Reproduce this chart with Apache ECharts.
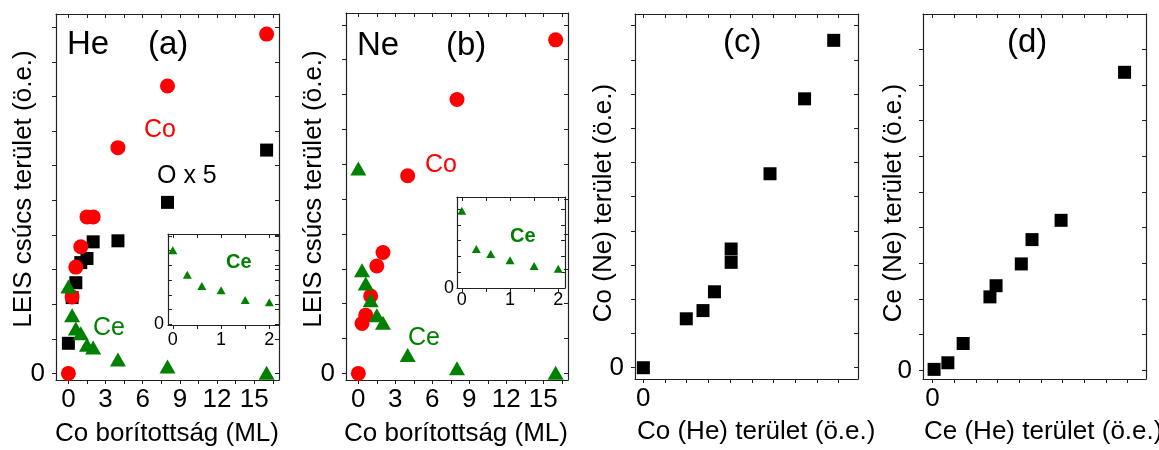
<!DOCTYPE html>
<html>
<head>
<meta charset="utf-8">
<script src="https://cdn.jsdelivr.net/npm/echarts@6/dist/echarts.min.js"></script>
<style>
  html, body { margin: 0; padding: 0; background: #fff; }
  #chart { width: 1159px; height: 450px; }
</style>
</head>
<body>
<div id="chart"></div>
<script>
// Co coverage (ML) of each deposition step
const coverage = [0, 0.3, 0.6, 1, 1.5, 2, 4, 8, 16];
// LEIS peak areas measured with He+ ions (arb. units); O is multiplied by 5
const coHe = [0, 2.21, 3.07, 3.66, 4.52, 4.52, 6.52, 8.30, 9.80];
const oHeX5 = [0.87, 2.19, 2.62, 3.20, 3.32, 3.80, 3.83, 4.94, 6.45];
const ceHe = [2.51, 1.68, 1.30, 1.16, 0.83, 0.75, 0.40, 0.20, 0.02];
// LEIS peak areas measured with Ne+ ions (arb. units)
const coNe = [0, 1.43, 1.67, 2.22, 3.08, 3.47, 5.67, 7.86, 9.57];
const ceNe = [5.88, 2.96, 2.58, 2.10, 1.67, 1.45, 0.53, 0.15, 0.02];
// the insets zoom into the low-coverage range
const insetMaxCoverage = 2;
// tick labels
const coverageLabels = [0, 3, 6, 9, 12, 15];
const insetLabels = [0, 1, 2];
const zeroLabel = [0];

const FONT = 'Liberation Sans, Arial, Helvetica, sans-serif';
const AX = '#222';
const RED = '#ff0000';
const GREEN = '#008000';
const BLACK = '#000000';

function steps(step, count) {
  const out = [];
  for (let k = 0; k <= count; k++) out.push(+(k * step).toFixed(4));
  return out;
}

function pairs(xs, ys, keep) {
  const out = [];
  xs.forEach((x, i) => { if (!keep || keep(i)) out.push([x, ys[i]]); });
  return out;
}

// one axis: position decides side, inside decides tick direction
function axis(grid, min, max, position, ticks, labels, tickInside, labelSize, labelMargin) {
  const a = {
    type: 'value', gridIndex: grid, min: min, max: max, position: position,
    axisLine: { show: true, onZero: false, lineStyle: { color: AX, width: 1.2 } },
    axisTick: { show: true, inside: tickInside, length: 4, customValues: ticks,
                lineStyle: { color: AX, width: 1 } },
    splitLine: { show: false }
  };
  if (labels && labels.length) {
    a.axisLabel = { show: true, customValues: labels, color: '#000',
                    fontFamily: FONT, fontSize: labelSize, margin: labelMargin };
  } else {
    a.axisLabel = { show: false };
  }
  return a;
}

const grids = [
  { left: 56, top: 14, width: 223, height: 366 },   // (a) He
  { left: 346, top: 13, width: 222, height: 367 },  // (b) Ne
  { left: 635, top: 14, width: 223, height: 365 },  // (c) Co Ne vs He
  { left: 923, top: 14, width: 223, height: 365 },  // (d) Ce Ne vs He
  { left: 168, top: 234, width: 111, height: 91 },  // inset in (a)
  { left: 457, top: 197, width: 108, height: 91 }   // inset in (b)
].map(g => Object.assign({ containLabel: false, outerBoundsMode: 'none', show: true,
  backgroundColor: '#fff', borderWidth: 0 }, g));

const covTicks = steps(1.5, 11);
const intTicks = steps(1, 10);

// [xMin, xMax, yMin, yMax, xTicks, yTicks, xLabels, yLabels, labelSize, xMargin, yMargin, leftTicksInside]
const frames = [
  [-1, 17, -0.19, 10.38, covTicks, intTicks, coverageLabels, zeroLabel, 26, 7, 11, false],
  [-1, 17, -0.19, 10.34, covTicks, intTicks, coverageLabels, zeroLabel, 26, 7, 11, false],
  [-0.43, 11.05, -0.33, 10.34, steps(1.117, 9), intTicks, zeroLabel, zeroLabel, 26, 7, 11, false],
  [-0.125, 2.79, -0.17, 7.03, steps(0.2833, 9), steps(0.704, 9), zeroLabel, zeroLabel, 26, 7, 11, false],
  [-0.1, 2.2, -0.017, 3.06, steps(0.5, 4), steps(0.5, 6), insetLabels, zeroLabel, 18, 6, 4, true],
  [-0.1, 2.14, -0.01, 6.92, steps(0.5, 4), steps(1.2, 5), insetLabels, zeroLabel, 18, 3, 3, true]
];

const xAxes = [], yAxes = [];
frames.forEach((f, g) => {
  const [x0, x1, y0, y1, xt, yt, xl, yl, ls, xm, ym, leftIn] = f;
  xAxes.push(axis(g, x0, x1, 'bottom', xt, xl, false, ls, xm));
  yAxes.push(axis(g, y0, y1, 'left', yt, yl, leftIn, ls, ym));
});
frames.forEach((f, g) => {
  const [x0, x1, y0, y1, xt, yt] = f;
  xAxes.push(axis(g, x0, x1, 'top', xt, null, true));
  yAxes.push(axis(g, y0, y1, 'right', yt, null, true));
});

function scatter(name, grid, data, symbol, size, color) {
  return { name: name, type: 'scatter', xAxisIndex: grid, yAxisIndex: grid,
           data: data, symbol: symbol, symbolSize: size,
           itemStyle: { color: color, opacity: 1 }, emphasis: { disabled: true } };
}

const lowCov = i => coverage[i] <= insetMaxCoverage;

const series = [
  scatter('O x 5 (He)', 0, pairs(coverage, oHeX5), 'rect', 13, BLACK),
  scatter('Co (He)', 0, pairs(coverage, coHe), 'circle', 15, RED),
  scatter('Ce (He)', 0, pairs(coverage, ceHe), 'triangle', [16, 14], GREEN),
  scatter('Co (Ne)', 1, pairs(coverage, coNe), 'circle', 15, RED),
  scatter('Ce (Ne)', 1, pairs(coverage, ceNe), 'triangle', [16, 14], GREEN),
  scatter('Co Ne vs He', 2, pairs(coHe, coNe), 'rect', 13, BLACK),
  scatter('Ce Ne vs He', 3, pairs(ceHe, ceNe), 'rect', 13, BLACK),
  scatter('Ce (He) low', 4, pairs(coverage, ceHe, lowCov), 'triangle', [9, 8], GREEN),
  scatter('Ce (Ne) low', 5, pairs(coverage, ceNe, lowCov), 'triangle', [9, 8], GREEN)
];

function label(text, x, y, size, color, bold) {
  return { type: 'text', x: x, y: y, silent: true, z: 100,
           style: { text: text, fill: color, textAlign: 'left', textVerticalAlign: 'middle',
                    font: (bold ? 'bold ' : '') + size + 'px ' + FONT } };
}
function vlabel(text, x, y, size) {
  return { type: 'text', x: x, y: y, rotation: Math.PI / 2, silent: true, z: 100,
           style: { text: text, fill: '#000', textAlign: 'center', textVerticalAlign: 'middle',
                    font: size + 'px ' + FONT } };
}

const graphic = [
  label('He', 67, 45, 33, '#000'),
  label('(a)', 148, 45, 33, '#000'),
  label('Co', 144, 130, 25, RED),
  label('O x 5', 157, 176, 25, '#000'),
  label('Ce', 93, 328, 25, GREEN),
  label('Ce', 226, 262, 20, GREEN, true),
  label('Ne', 357, 46, 33, '#000'),
  label('(b)', 446, 46, 33, '#000'),
  label('Co', 425, 165, 25, RED),
  label('Ce', 408, 338, 25, GREEN),
  label('Ce', 510, 236, 20, GREEN, true),
  label('(c)', 723, 43, 33, '#000'),
  label('(d)', 1007, 43, 33, '#000'),
  label('Co borítottság (ML)', 55, 434, 26, '#000'),
  label('Co borítottság (ML)', 344, 434, 26, '#000'),
  label('Co (He) terület (ö.e.)', 637, 432, 26, '#000'),
  label('Ce (He) terület (ö.e.)', 924, 432, 26, '#000'),
  vlabel('LEIS csúcs terület (ö.e.)', 24, 189, 26),
  vlabel('LEIS csúcs terület (ö.e.)', 314, 189, 26),
  vlabel('Co (Ne) terület (ö.e.)', 604, 203, 26),
  vlabel('Ce (Ne) terület (ö.e.)', 894, 203, 26)
];

const chart = echarts.init(document.getElementById('chart'), null, { renderer: 'canvas' });
chart.setOption({
  animation: false,
  backgroundColor: '#fff',
  textStyle: { fontFamily: FONT },
  grid: grids,
  xAxis: xAxes,
  yAxis: yAxes,
  series: series,
  graphic: graphic
});
</script>
</body>
</html>
